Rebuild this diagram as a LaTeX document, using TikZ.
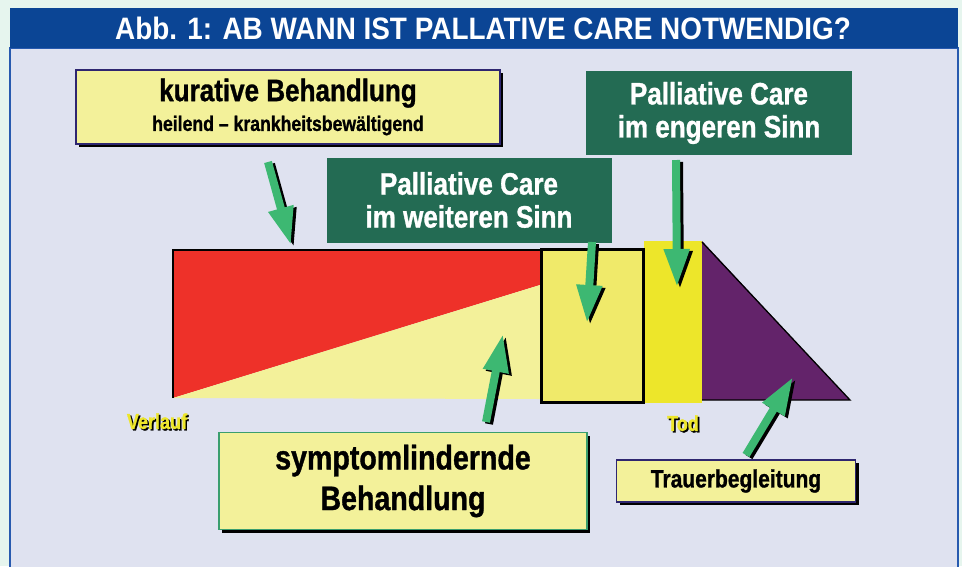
\documentclass[tikz,border=0pt]{standalone}
\usepackage{fontspec}
\setmainfont{Liberation Sans}
\newfontfamily\condfont{Liberation Sans}[FakeStretch=0.84,BoldFeatures={FakeBold=1}]
\newfontfamily\titlefont{Liberation Sans}[FakeStretch=0.9]
\usetikzlibrary{arrows.meta,shadows,calc}

\definecolor{mintbg}{RGB}{230,245,238}
\definecolor{titleblue}{RGB}{11,69,149}
\definecolor{framblue}{RGB}{40,90,175}
\definecolor{bodybg}{RGB}{223,226,240}
\definecolor{paleyellow}{RGB}{243,241,154}
\definecolor{boxyellow}{RGB}{240,234,106}
\definecolor{brightyellow}{RGB}{237,230,42}
\definecolor{curered}{RGB}{238,49,41}
\definecolor{mourn}{RGB}{99,35,106}
\definecolor{pcgreen}{RGB}{35,107,83}
\definecolor{arrowgreen}{RGB}{61,184,114}
\definecolor{boxnavy}{RGB}{46,38,112}
\definecolor{boxgreen}{RGB}{58,158,110}

\newcommand{\schattentext}[1]{\rlap{\kern1.6pt\raisebox{-1.6pt}{\color{black}#1}}\textcolor{brightyellow}{#1}}

\tikzset{
  yellowbox/.style={draw=boxnavy,line width=1.6pt,fill=paleyellow,inner sep=0pt,align=center,
    drop shadow={shadow xshift=3pt,shadow yshift=-3pt,opacity=1,fill=black},font=\condfont\bfseries},
  pcbox/.style={fill=pcgreen,text=white,inner sep=0pt,align=center,font=\condfont\bfseries\fontsize{31}{33}\selectfont},
  fatarrow/.style={draw=arrowgreen,line width=8pt,-{Triangle[length=38pt,width=24pt]}},
  arrowshadow/.style={fatarrow,draw=black},
  marker/.style={inner sep=0pt,font=\condfont\bfseries\fontsize{21.5}{23}\selectfont}
}

\begin{document}
\begin{tikzpicture}[x=1pt,y=-1pt]
  \useasboundingbox (0,0) rectangle (962,566);
  % frame and title
  \fill[mintbg] (0,0) rectangle (962,566);
  \fill[bodybg,draw=framblue,line width=1.2pt] (10,48) rectangle (958,570);
  \fill[titleblue] (10,8) rectangle (958,48);
  \node[text=white,font=\titlefont\bfseries\fontsize{31}{32}\selectfont] (titel) at (483,28)
    {Abb. 1: AB WANN IST PALLATIVE CARE NOTWENDIG?};

  % course of illness
  \fill[curered] (173,250) -- (540,250) -- (540,285) -- (173,398) -- cycle;
  \fill[paleyellow] (173,398) -- (540,285) -- (540,399) -- cycle;
  \draw[line width=1.5pt] (173,398) -- (173,250) -- (540,250);
  \fill[brightyellow] (644,241) rectangle (702,403);
  \fill[mourn] (702,241) -- (850,400) -- (702,400) -- cycle;
  \draw[line width=1.3pt] (702,242) -- (850,400) -- (702,400);
  \draw[fill=boxyellow,line width=3pt] (541,249) rectangle (643,402);

  \node[marker] (verlauf) at (157,422) {\schattentext{Verlauf}};
  \node[marker] (tod) at (683,424) {\schattentext{Tod}};

  % boxes
  \node[yellowbox,minimum width=424pt,minimum height=74pt] (kurativ) at (288,107)
    {\fontsize{31}{31}\selectfont kurative Behandlung\\[7pt]\fontsize{21}{21}\selectfont heilend – krankheitsbewältigend};
  \node[pcbox,minimum width=285pt,minimum height=85pt] (weit) at (469,200)
    {Palliative Care\\im weiteren Sinn};
  \node[pcbox,minimum width=266pt,minimum height=84pt] (eng) at (719,113)
    {Palliative Care\\im engeren Sinn};
  \node[yellowbox,draw=boxgreen,minimum width=368pt,minimum height=97pt] (symptom) at (403,481)
    {\fontsize{34}{34}\selectfont symptomlindernde\\[8pt]\fontsize{34}{34}\selectfont Behandlung};
  \node[yellowbox,minimum width=239pt,minimum height=42pt] (trauer) at (736,481)
    {\fontsize{25}{25}\selectfont Trauerbegleitung};

  % arrows
  \coordinate (k1) at (268,162);  \coordinate (k2) at (291,245);
  \coordinate (w1) at (592,242);  \coordinate (w2) at (587,323);
  \coordinate (e1) at (676,160);  \coordinate (e2) at (677,287);
  \coordinate (s1) at (486,422);  \coordinate (s2) at (503,334);
  \coordinate (t1) at (746,455);  \coordinate (t2) at (793,377);
  \foreach \von/\bis in {k1/k2,w1/w2,e1/e2,s1/s2,t1/t2}{
    \draw[arrowshadow] ($(\von)+(3pt,-2pt)$) -- ($(\bis)+(3pt,-2pt)$);
    \draw[fatarrow] (\von) -- (\bis);
  }
\end{tikzpicture}
\end{document}
